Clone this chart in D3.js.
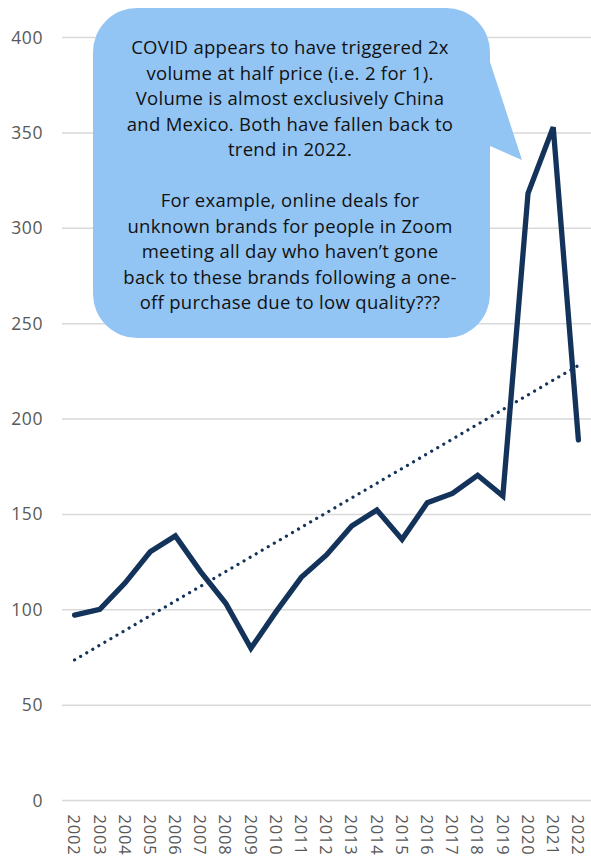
<!DOCTYPE html>
<html><head><meta charset="utf-8">
<script src="https://cdn.jsdelivr.net/npm/d3@7"></script>
<style>body{margin:0;background:#fff;}svg{display:block;}</style>
</head><body>
<svg id="chart" width="591" height="859"></svg>
<script>
const years = ["2002","2003","2004","2005","2006","2007","2008","2009","2010","2011","2012","2013","2014","2015","2016","2017","2018","2019","2020","2021","2022"];
const values = [97.2,100.2,114,130.4,138.7,120,103.4,79.8,99,117,128.7,143.9,152.3,136.9,156.1,161,170.5,159.6,318.3,353,189];
const yTicks = [0,50,100,150,200,250,300,350,400];
const calloutLines = [
  "COVID appears to have triggered 2x",
  "volume at half price (i.e. 2 for 1).",
  "Volume is almost exclusively China",
  "and Mexico. Both have fallen back to",
  "trend in 2022.",
  "",
  "For example, online deals for",
  "unknown brands for people in Zoom",
  "meeting all day who haven\u2019t gone",
  "back to these brands following a one-",
  "off purchase due to low quality???"
];

const svg = d3.select("#chart");
const plotLeft = 62, plotRight = 591, plotTop = 37.5, plotBottom = 800.5;
const x = d3.scalePoint().domain(years).range([plotLeft, plotRight]).padding(0.5);
const y = d3.scaleLinear().domain([0,400]).range([plotBottom, plotTop]);
const font = "'Open Sans', Lato, sans-serif";

// gridlines
svg.append("g").selectAll("line").data(yTicks).join("line")
  .attr("x1", plotLeft).attr("x2", plotRight)
  .attr("y1", d => y(d)).attr("y2", d => y(d))
  .attr("stroke", "#d9d9d9").attr("stroke-width", 1.5);

// y axis labels
const yAxis = svg.append("g").attr("transform", `translate(${plotLeft},0)`)
  .call(d3.axisLeft(y).tickValues(yTicks).tickSize(0).tickPadding(19));
yAxis.select(".domain").remove();
yAxis.selectAll("text").attr("font-family", font).attr("font-size", 17.5)
  .attr("letter-spacing", 0.6).attr("fill", "#595959");

// x axis labels rotated
const xAxis = svg.append("g").attr("transform", `translate(0,${plotBottom})`)
  .call(d3.axisBottom(x).tickSize(0).tickPadding(0));
xAxis.select(".domain").remove();
xAxis.selectAll("text")
  .attr("font-family", font).attr("font-size", 16.5).attr("fill", "#595959")
  .attr("letter-spacing", 0.8)
  .attr("text-anchor", "start")
  .attr("dy", "0.35em")
  .attr("transform", "translate(-1,14) rotate(90)")
  .attr("x", 0).attr("y", 0);

// trend line (least squares)
const idx = values.map((v,i)=>i);
const mx = d3.mean(idx), my = d3.mean(values);
const slope = d3.sum(idx.map((i)=> (i-mx)*(values[i]-my))) / d3.sum(idx.map(i=>(i-mx)*(i-mx)));
const icpt = my - slope*mx;
const trend = [years[0], years[years.length-1]].map((yr)=>{const i=years.indexOf(yr);return [x(yr), y(icpt+slope*i)];});
svg.append("path").attr("d", d3.line()(trend))
  .attr("fill","none").attr("stroke","#14335a").attr("stroke-width",3.2)
  .attr("stroke-linecap","round").attr("stroke-dasharray","0.01 7");

// main line
svg.append("path").datum(values)
  .attr("d", d3.line().x((d,i)=>x(years[i])).y(d=>y(d)))
  .attr("fill","none").attr("stroke","#14335a").attr("stroke-width",5.3)
  .attr("stroke-linejoin","miter").attr("stroke-linecap","round");

// callout
const bx0=93, bx1=490, by0=8, by1=338, r=44;
const p = d3.path();
p.moveTo(bx0+r, by0);
p.lineTo(bx1-r, by0);
p.arcTo(bx1, by0, bx1, by0+r, r);
p.lineTo(bx1, 62);
p.lineTo(522, 160);
p.lineTo(bx1, 146);
p.lineTo(bx1, by1-r);
p.arcTo(bx1, by1, bx1-r, by1, r);
p.lineTo(bx0+r, by1);
p.arcTo(bx0, by1, bx0, by1-r, r);
p.lineTo(bx0, by0+r);
p.arcTo(bx0, by0, bx0+r, by0, r);
p.closePath();
svg.append("path").attr("d", p.toString()).attr("fill","#93c5f4");

svg.append("g").selectAll("text").data(calloutLines).join("text")
  .attr("x", 290).attr("y", (d,i)=>48 + i*25.5)
  .attr("dy","0.35em")
  .attr("text-anchor","middle")
  .attr("font-family", font).attr("font-size", 18.5).attr("letter-spacing", 0.3)
  .attr("fill","#111")
  .text(d=>d);
</script>
</body></html>
